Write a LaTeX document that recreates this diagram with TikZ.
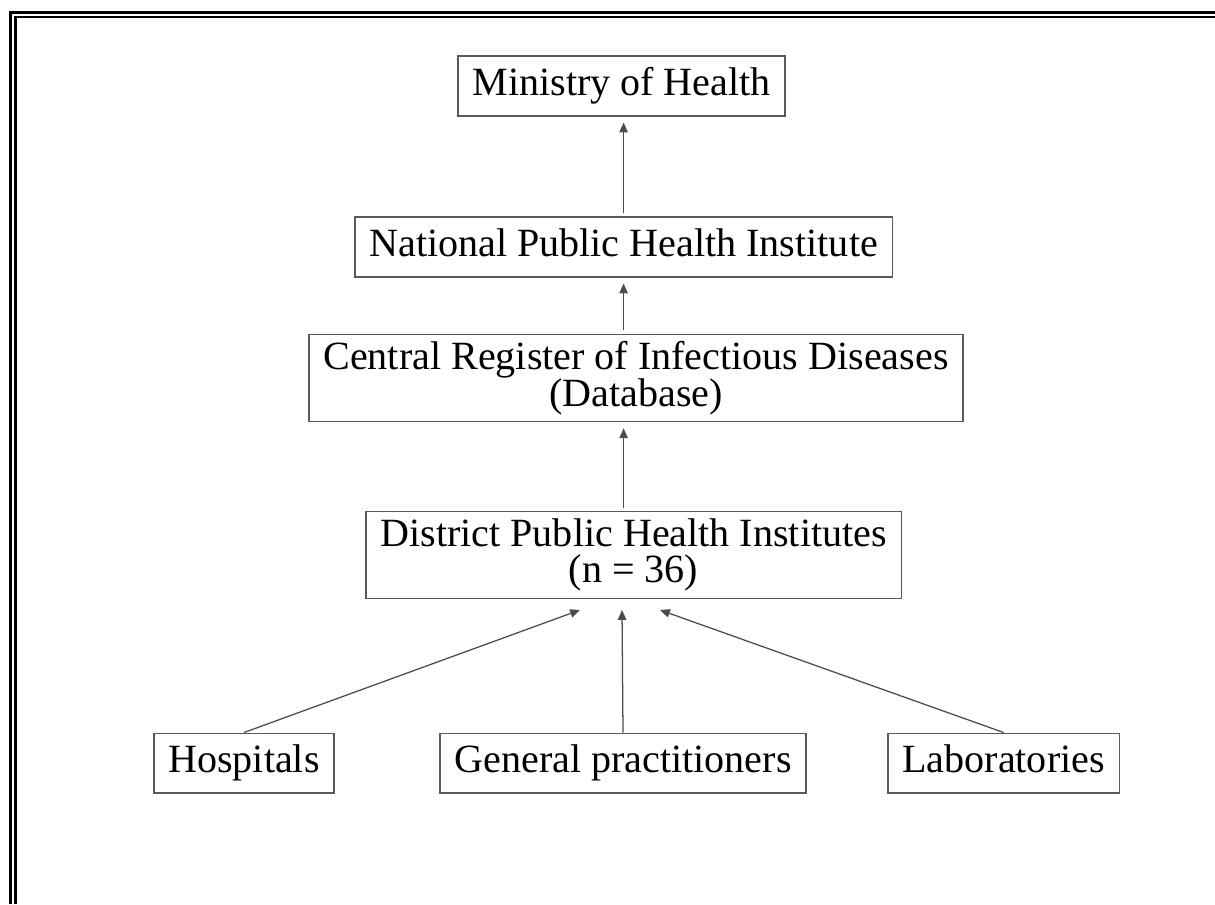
\documentclass[tikz,border=0pt]{standalone}
\usepackage{fontspec}
\setmainfont{Liberation Serif}
\usepackage{tikz}
\usetikzlibrary{arrows.meta,calc}

\tikzset{
  unit/.style={draw=black!65, line width=0.9pt, align=center, inner xsep=0.36cm, inner ysep=5pt,
    font=\fontsize{28.5}{26}\selectfont},
  oneline/.style={unit, inner ysep=8pt, text height=20pt, text depth=6.5pt},
  report/.style={draw=black!70, line width=0.9pt, -{Triangle[length=7pt,width=6pt]},
    shorten >=0.15cm, shorten <=0.08cm}
}

\begin{document}
\begin{tikzpicture}
  \useasboundingbox (0,0) rectangle (30.375,-22.6);
  % frame (top and left only)
  \draw[line width=1.8pt] (0.26,-22.6) |- (30.375,-0.31);
  \draw[line width=1.8pt] (0.39,-22.6) |- (30.375,-0.43);

  \node[oneline] (ministry) at (15.54,-2.15) {Ministry of Health};
  \node[oneline] (npi) at (15.59,-6.175) {National Public Health Institute};
  \node[unit] (register) at (15.9,-9.45) {Central Register of Infectious Diseases\\(Database)};
  \node[unit] (district) at (15.84,-13.875) {District Public Health Institutes\\(n = 36)};
  \node[oneline] (hospitals) at (6.1,-19.075) {Hospitals};
  \node[oneline] (gp) at (15.575,-19.075) {General practitioners};
  \node[oneline] (labs) at (25.09,-19.075) {Laboratories};

  \coordinate (inH) at (14.5,-15.25);
  \coordinate (inG) at (15.55,-15.25);
  \coordinate (inL) at (16.5,-15.25);

  \draw[report] (npi.north) -- (npi.north |- ministry.south);
  \draw[report] (register.north -| npi.south) -- (npi.south);
  \draw[report] (district.north -| npi.south) -- (npi.south |- register.south);
  \foreach \from/\to in {hospitals/inH, gp/inG, labs/inL}
    \draw[report, shorten >=0pt, shorten <=0pt] (\from.north) -- (\to);
\end{tikzpicture}
\end{document}
